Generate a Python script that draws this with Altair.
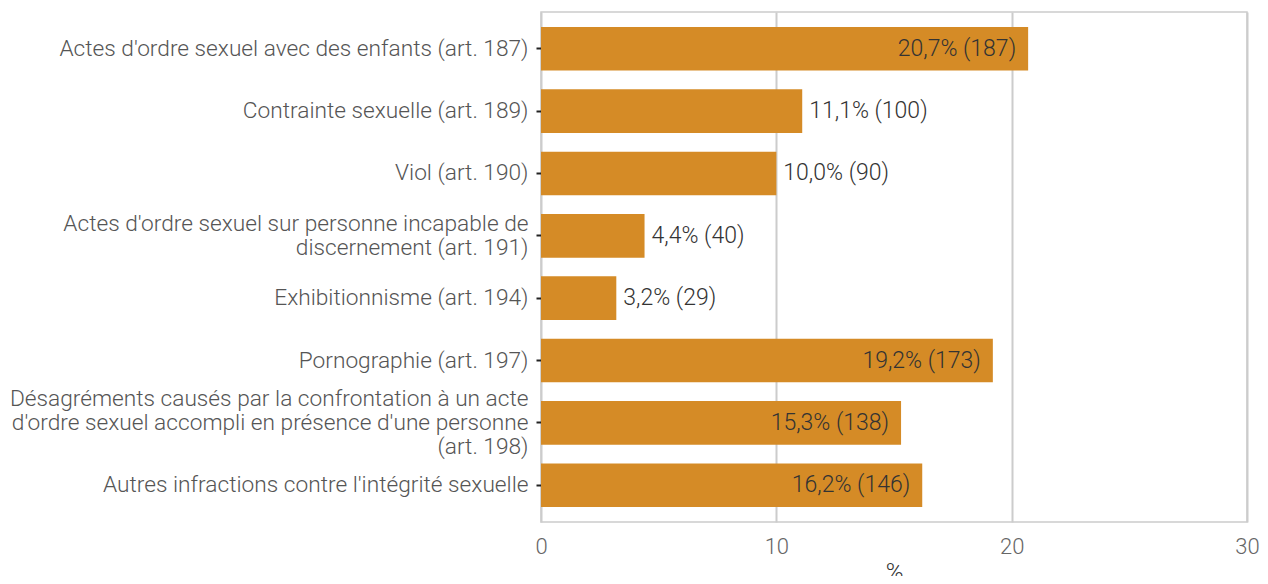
import altair as alt
import pandas as pd

categories = [
    "Actes d'ordre sexuel avec des enfants (art. 187)",
    "Contrainte sexuelle (art. 189)",
    "Viol (art. 190)",
    "Actes d'ordre sexuel sur personne incapable de|discernement (art. 191)",
    "Exhibitionnisme (art. 194)",
    "Pornographie (art. 197)",
    "Désagréments causés par la confrontation à un acte|d'ordre sexuel accompli en présence d'une personne|(art. 198)",
    "Autres infractions contre l'intégrité sexuelle",
]
percents = [20.7, 11.1, 10.0, 4.4, 3.2, 19.2, 15.3, 16.2]
counts = [187, 100, 90, 40, 29, 173, 138, 146]

df = pd.DataFrame({"cat": categories, "pct": percents, "n": counts})
df["label"] = [f"{p:.1f}".replace(".", ",") + f"% ({n})" for p, n in zip(percents, counts)]

FONT = "Roboto"
COLOR = "#D58B26"
LH = 24

y_enc = alt.Y(
    "cat:N",
    sort=categories,
    title=None,
    scale=alt.Scale(paddingInner=0.3, paddingOuter=0.24),
    axis=alt.Axis(
        labelExpr="split(datum.label, '|')",
        labelFont=FONT,
        labelFontSize=22.7,
        labelFontWeight=300,
        labelColor="#555555",
        labelLineHeight=LH,
        labelLimit=600,
        labelPadding=8,
        labelOffset={
            "condition": [
                {"test": "length(split(datum.value, '|')) == 3", "value": -LH},
                {"test": "length(split(datum.value, '|')) == 2", "value": -LH / 2},
            ],
            "value": 0,
        },
        ticks=True,
        tickSize=5,
        tickColor="#222222",
        tickWidth=2,
        domain=False,
        grid=False,
    ),
)

x_enc = alt.X(
    "pct:Q",
    title="%",
    scale=alt.Scale(domain=[0, 30], nice=False),
    axis=alt.Axis(
        values=[0, 10, 20, 30],
        labelFont=FONT,
        labelFontSize=22,
        labelFontWeight=300,
        labelColor="#666666",
        labelPadding=14,
        labelFlush=False,
        ticks=False,
        domain=False,
        grid=True,
        gridColor="#cccccc",
        gridWidth=2,
        titleFont=FONT,
        titleFontSize=24,
        titleFontWeight=300,
        titleColor="#333333",
        titlePadding=3,
    ),
)

bars = alt.Chart(df).mark_bar(color=COLOR).encode(x=x_enc, y=y_enc)

inside = alt.Chart(df).transform_filter("datum.pct >= 15").mark_text(
    align="right", baseline="middle", dx=-12, font=FONT, fontSize=23, fontWeight=300, color="#333333"
).encode(x="pct:Q", y=alt.Y("cat:N", sort=categories), text="label:N")

outside = alt.Chart(df).transform_filter("datum.pct < 15").mark_text(
    align="left", baseline="middle", dx=7, font=FONT, fontSize=23, fontWeight=300, color="#333333"
).encode(x="pct:Q", y=alt.Y("cat:N", sort=categories), text="label:N")

chart = (
    alt.layer(bars, inside, outside)
    .properties(
        width=706,
        height=510,
        autosize=alt.AutoSizeParams(type="none"),
        padding={"left": 533, "top": 4, "right": 13, "bottom": 54},
    )
    .configure_view(stroke="#cccccc", strokeWidth=1.5)
)

chart.save("out.html", embed_options={"renderer": "svg", "actions": False})
